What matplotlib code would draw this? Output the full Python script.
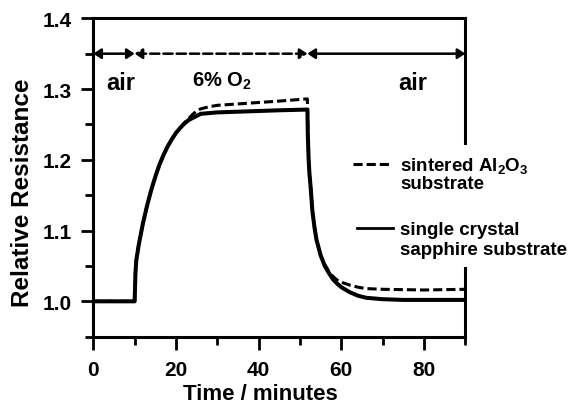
import matplotlib
matplotlib.use("Agg")
import matplotlib.pyplot as plt
from matplotlib.lines import Line2D
from matplotlib.patches import Rectangle
from matplotlib.ticker import FormatStrFormatter

plt.rcParams['font.family'] = ['Liberation Sans', 'DejaVu Sans']
plt.rcParams['font.weight'] = 'bold'
plt.rcParams['mathtext.fontset'] = 'custom'
plt.rcParams['mathtext.rm'] = 'Liberation Sans:bold'
plt.rcParams['mathtext.bf'] = 'Liberation Sans:bold'
plt.rcParams['mathtext.it'] = 'Liberation Sans:bold'
plt.rcParams['mathtext.default'] = 'rm'

# ---- data ----
t_sapphire = [0, 9.9, 10.0, 10.2, 10.4, 11.0, 12.0, 13.0, 14.0, 15.0, 16.0, 17.0,
              18.0, 19.0, 20.0, 21.0, 22.0, 23.0, 24.0, 26.0, 28.0, 30.0, 35.0,
              40.0, 45.0, 51.8, 51.9, 52.1, 52.3, 52.6, 53.0, 53.5, 54.0, 55.0,
              56.0, 57.0, 58.0, 59.0, 60.0, 62.0, 64.0, 66.0, 70.0, 75.0, 80.0, 90.0]
r_sapphire = [1.000, 1.000, 1.000, 1.040, 1.058, 1.080, 1.110, 1.135, 1.157, 1.176,
              1.193, 1.207, 1.219, 1.229, 1.238, 1.245, 1.251, 1.256, 1.259, 1.265,
              1.266, 1.267, 1.268, 1.269, 1.270, 1.271, 1.235, 1.200, 1.180, 1.160,
              1.128, 1.105, 1.087, 1.065, 1.050, 1.040, 1.031, 1.025, 1.020, 1.013,
              1.008, 1.005, 1.003, 1.002, 1.002, 1.002]

t_sintered = [0, 9.9, 10.0, 10.2, 10.4, 11.0, 12.0, 13.0, 14.0, 15.0, 16.0, 17.0,
              18.0, 19.0, 20.0, 21.0, 22.0, 23.0, 24.0, 25.0, 26.0, 28.0, 30.0,
              35.0, 40.0, 45.0, 51.5, 51.8, 51.9, 52.1, 52.3, 52.6, 53.0, 53.5,
              54.0, 55.0, 56.0, 57.0, 58.0, 59.0, 60.0, 62.0, 64.0, 66.0, 70.0,
              80.0, 90.0]
r_sintered = [1.000, 1.000, 1.000, 1.040, 1.058, 1.080, 1.110, 1.135, 1.157, 1.176,
              1.193, 1.207, 1.219, 1.229, 1.238, 1.245, 1.252, 1.258, 1.264, 1.269,
              1.272, 1.275, 1.277, 1.279, 1.281, 1.283, 1.286, 1.286, 1.240, 1.200,
              1.180, 1.160, 1.128, 1.105, 1.087, 1.065, 1.052, 1.042, 1.035, 1.030,
              1.027, 1.023, 1.020, 1.018, 1.017, 1.016, 1.017]

phase_bounds = [0, 10, 51.8, 90]
phase_styles = ['-', '--', '-']
phase_labels = ['air', '6% O$_2$', 'air']
phase_label_x = [6.6, 31.1, 77.4]
phase_label_y = [1.300, 1.3045, 1.300]
phase_label_size = [17, 14.5, 17]
arrow_level = 1.35

x_major = [0, 20, 40, 60, 80]
x_minor = [10, 30, 50, 70, 90]
y_major = [1.0, 1.1, 1.2, 1.3, 1.4]
y_minor = [0.95, 1.05, 1.15, 1.25, 1.35]

# ---- figure ----
W, H = 572, 406
fig = plt.figure(figsize=(W / 100, H / 100), dpi=100)
ax = fig.add_axes([93.3 / W, 1 - 337.7 / H, (465.3 - 93.3) / W, (337.7 - 19.3) / H])

ax.plot(t_sintered, r_sintered, color='black', lw=2.2, ls=(0, (3.0, 1.3)), zorder=3)
ax.plot(t_sapphire, r_sapphire, color='black', lw=2.9, ls='-', zorder=4,
        solid_joinstyle='round')

ax.set_xlim(0, 90)
ax.set_ylim(0.95, 1.4)
ax.set_xticks(x_major)
ax.set_xticks(x_minor, minor=True)
ax.set_yticks(y_major)
ax.set_yticks(y_minor, minor=True)
ax.yaxis.set_major_formatter(FormatStrFormatter('%.1f'))

for s in ax.spines.values():
    s.set_linewidth(2.2)
ax.tick_params(which='both', direction='out', top=False, right=False, width=2.0)
ax.tick_params(which='major', length=9, labelsize=15)
ax.tick_params(axis='y', which='major', pad=6.5)
ax.tick_params(axis='x', which='major', pad=7.5)
ax.tick_params(which='minor', length=5.5)
for lab in ax.get_xticklabels() + ax.get_yticklabels():
    lab.set_fontweight('bold')

ax.set_xlabel('Time / minutes', fontsize=16, fontweight='bold', va='baseline')
ax.xaxis.set_label_coords((260 - 93.3) / 372, (337.7 - 400) / 318.4)
ax.set_ylabel('Relative Resistance', fontsize=17.5, fontweight='bold')
ax.yaxis.set_label_coords((34 - 93.3) / 372, (337.7 - 193) / 318.4)

# phase arrows
for a, b, st in zip(phase_bounds[:-1], phase_bounds[1:], phase_styles):
    ax.annotate('', xy=(b, arrow_level), xytext=(a, arrow_level),
                arrowprops=dict(arrowstyle='<|-|>,head_length=0.45,head_width=0.3',
                                lw=1.8, ls=st, color='black', shrinkA=0, shrinkB=0,
                                mutation_scale=10), annotation_clip=False, zorder=5)

for lab, x, y, fs in zip(phase_labels, phase_label_x, phase_label_y, phase_label_size):
    ax.text(x, y, lab, ha='center', va='baseline', fontsize=fs, fontweight='bold')

# legend (manual, white background hiding part of the right spine)
fig.add_artist(Rectangle((348 / W, 1 - 268 / H), (W - 348) / W, (268 - 146) / H,
                         transform=fig.transFigure, facecolor='white',
                         edgecolor='none', zorder=2))
fig.add_artist(Line2D([353 / W, 391 / W], [1 - 164.5 / H, 1 - 164.5 / H],
                      transform=fig.transFigure, color='black', lw=2.2,
                      ls=(0, (3.0, 1.3)), zorder=3))
fig.add_artist(Line2D([357 / W, 393 / W], [1 - 229 / H, 1 - 229 / H],
                      transform=fig.transFigure, color='black', lw=2.0,
                      ls='-', zorder=3))
leg_fs = 13.5
fig.text(400 / W, 1 - 170.5 / H, 'sintered Al$_2$O$_3$', fontsize=leg_fs,
         fontweight='bold', va='baseline', ha='left', zorder=4)
fig.text(400 / W, 1 - 189 / H, 'substrate', fontsize=leg_fs,
         fontweight='bold', va='baseline', ha='left', zorder=4)
fig.text(400 / W, 1 - 235 / H, 'single crystal', fontsize=leg_fs,
         fontweight='bold', va='baseline', ha='left', zorder=4)
fig.text(400 / W, 1 - 255 / H, 'sapphire substrate', fontsize=leg_fs,
         fontweight='bold', va='baseline', ha='left', zorder=4)

fig.savefig('out.png', dpi=100)
